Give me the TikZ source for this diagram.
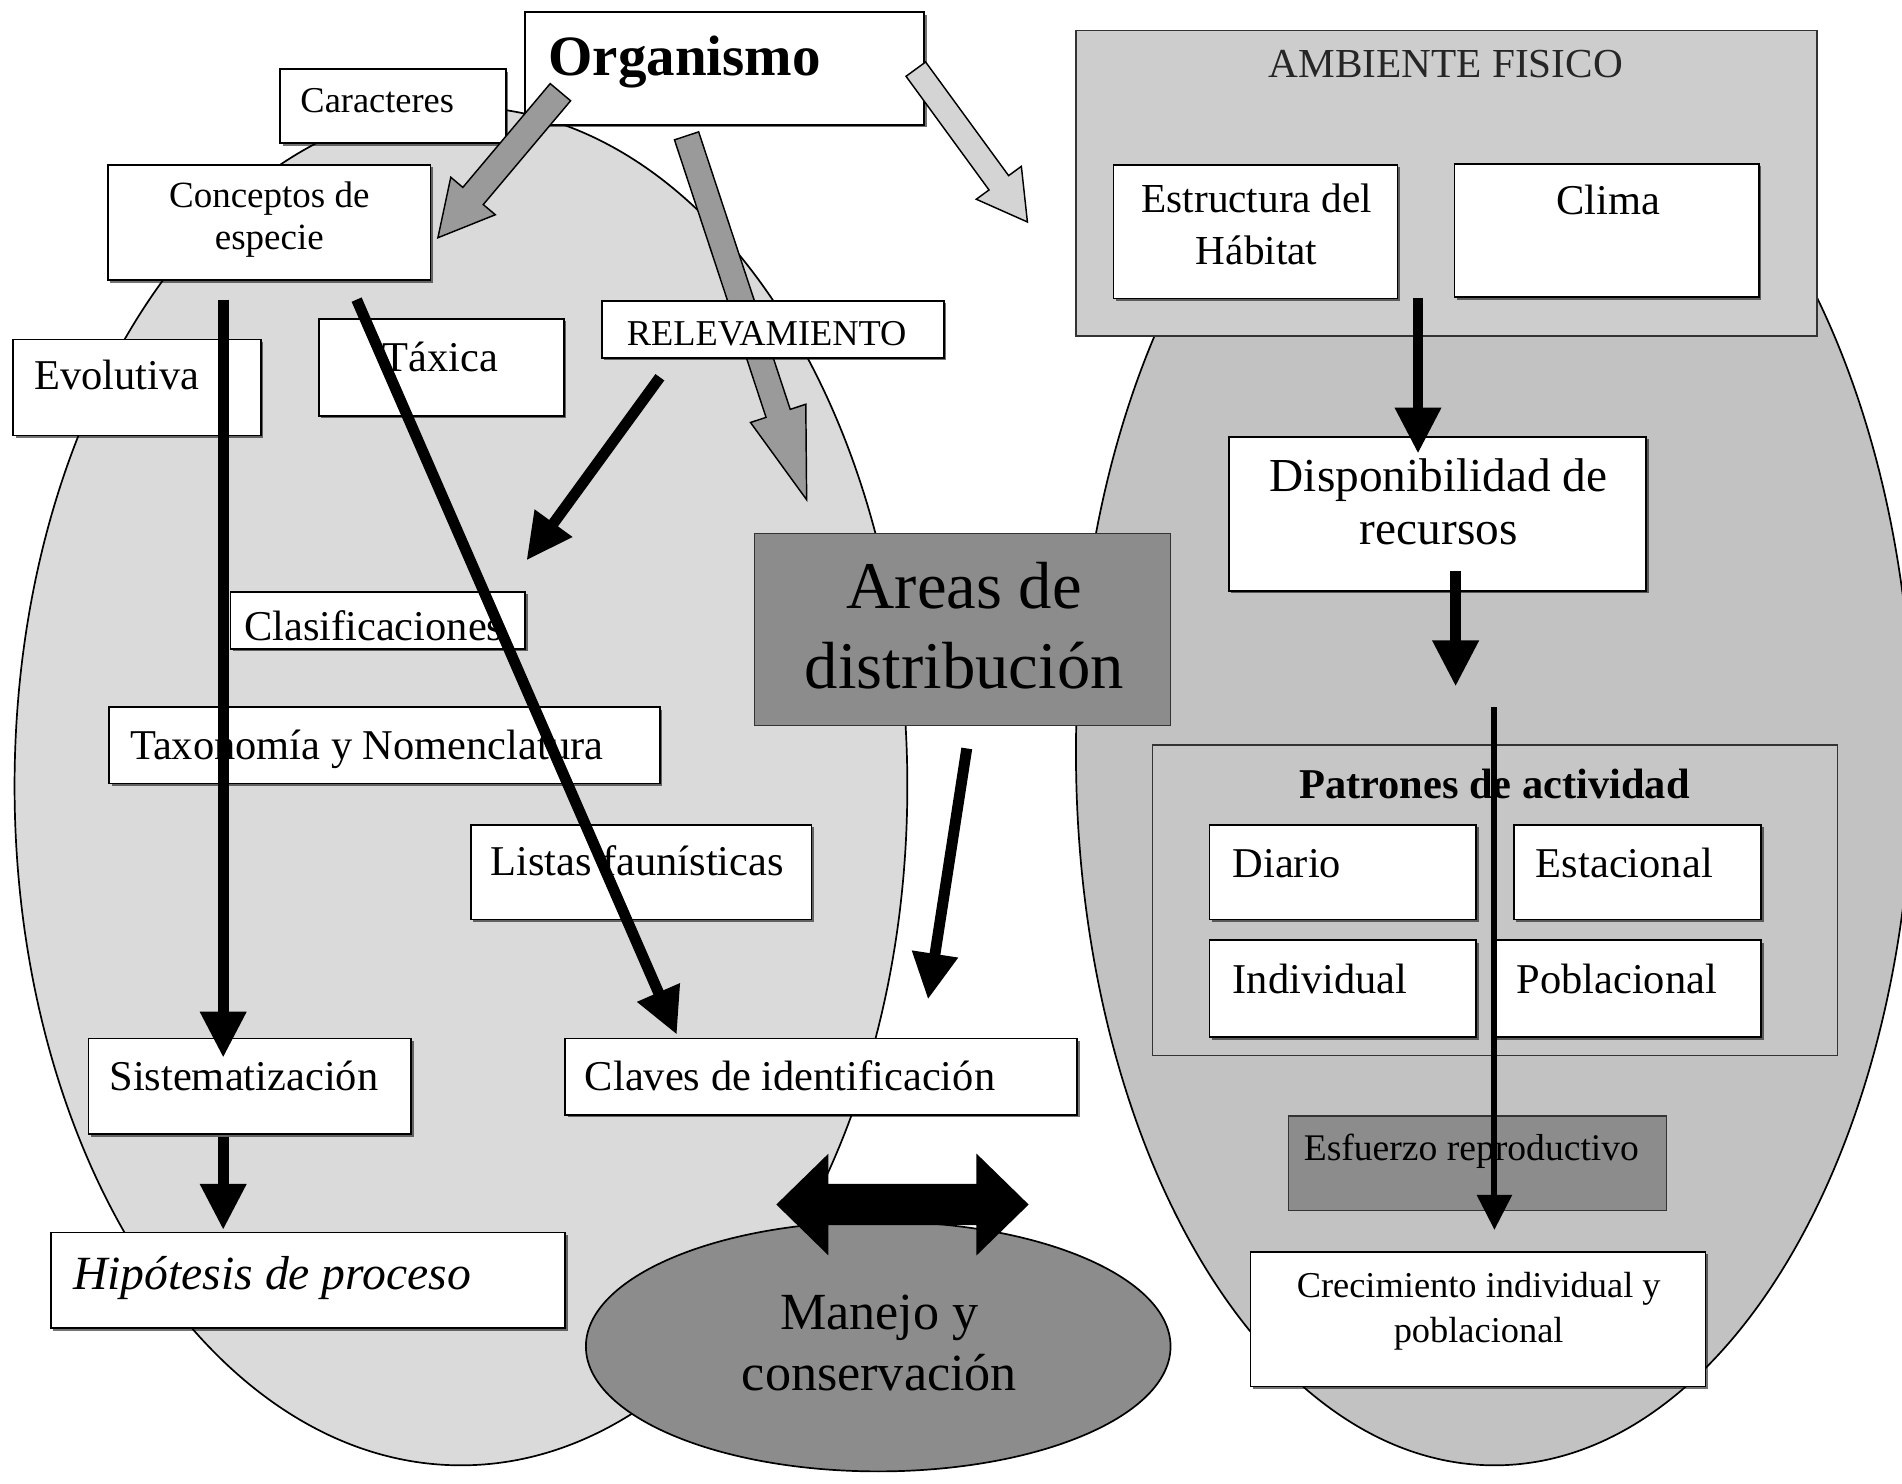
\documentclass[tikz,border=0pt]{standalone}
\usepackage{fontspec}
\setmainfont{Liberation Serif}
\usetikzlibrary{calc,fit,shadows,arrows.meta,shapes.geometric}
\newcommand\fsz[1]{\fontsize{#1}{#1}\selectfont}
\definecolor{leftfill}{HTML}{DADADA}
\definecolor{rightfill}{HTML}{C2C2C2}
\definecolor{ambfill}{HTML}{CDCDCD}
\definecolor{patfill}{HTML}{C6C6C6}
\definecolor{darkfill}{HTML}{8C8C8C}
\definecolor{arrowmid}{HTML}{9A9A9A}
\definecolor{arrowlight}{HTML}{D4D4D4}

% block arrow: style, tail, tip, shaft half-width, head half-width, head length
\newcommand\blockarrow[6]{%
  \coordinate (#2-hb) at ($(#3)!#6!(#2)$);
  \draw[#1] ($(#2)!#4!90:(#3)$) -- ($(#2-hb)!#4!90:(#3)$) -- ($(#2-hb)!#5!90:(#3)$) -- (#3)
    -- ($(#2-hb)!#5!-90:(#3)$) -- ($(#2-hb)!#4!-90:(#3)$) -- ($(#2)!#4!-90:(#3)$) -- cycle;
}

\begin{document}
\begin{tikzpicture}[x=1pt,y=-1pt,
  box/.style={draw=black, line width=1.4pt, fill=white, inner sep=0pt,
    drop shadow={shadow xshift=2pt, shadow yshift=-2pt, fill=black, opacity=0.55}},
  graybox/.style={draw=black!80, line width=1.2pt, fill=#1, inner sep=0pt},
  txt/.style={inner sep=0pt, font=\fsz{35}},
  blk/.style={line width=9pt, -{Triangle[length=38pt,width=36pt]}},
  thinblk/.style={line width=5pt, -{Triangle[length=29pt,width=28pt]}},
  garrow/.style={draw=black, line width=1.2pt, fill=#1},
]
\useasboundingbox (0,0) rectangle (1568,1223);
\fill[white] (0,0) rectangle (1568,1223);

% background regions
\draw[fill=leftfill, line width=1.4pt] (380,648) ellipse [x radius=368, y radius=560];
\draw[fill=rightfill, line width=1.4pt] (1232,620) ellipse [x radius=345, y radius=588];

% wide gray arrow running under the survey box
\coordinate (g2t) at (566,112);  \coordinate (g2p) at (665,412);
\blockarrow{garrow=arrowmid}{g2t}{g2p}{10.5pt}{24pt}{75pt}

% physical environment block
\node[graybox=ambfill, fit={(887,25)(1498,277)}] (amb) {};
\node[txt, anchor=base, font=\fsz{34}, text=black!85] (t-amb) at (1192,64) {AMBIENTE FISICO};

% distribution areas
\node[graybox=darkfill, fit={(622,440)(965,598)}] (are) {};
\node[txt, anchor=base, font=\fsz{55}] (t-are1) at (795,502) {Areas de};
\node[txt, anchor=base, font=\fsz{55}] (t-are2) at (795,568) {distribución};

% management ellipse
\node[draw=black, line width=1.4pt, fill=darkfill, ellipse, minimum width=482pt, minimum height=206pt, inner sep=0pt] (man) at (724,1110) {};
\node[txt, anchor=base, font=\fsz{43}] (t-man1) at (725,1096) {Manejo y};
\node[txt, anchor=base, font=\fsz{43}] (t-man2) at (725,1146) {conservación};

% activity patterns block
\node[graybox=patfill, fit={(950,614)(1515,870)}] (pat) {};
\node[txt, anchor=base, font=\fsz{35}\bfseries] (t-pat) at (1232,658) {Patrones de actividad};
\node[graybox=darkfill, fit={(1062,920)(1374,998)}] (esf) {};
\node[txt, anchor=base, font=\fsz{31}] (t-esf) at (1213,957) {Esfuerzo reproductivo};

% white boxes
\node[box, fit={(433,10)(762,103)}] (org) {};
\node[txt, anchor=base west, font=\fsz{47}\bfseries] (t-org) at (452,62) {Organismo};
\node[box, fit={(231,57)(417,118)}] (car) {};
\node[txt, anchor=base, font=\fsz{30}] (t-car) at (311,93) {Caracteres};
\node[box, fit={(89,136)(355,231)}] (con) {};
\node[txt, anchor=base, font=\fsz{30.5}] (t-con1) at (222,171) {Conceptos de};
\node[txt, anchor=base, font=\fsz{30.5}] (t-con2) at (222,206) {especie};
\node[box, fit={(11,280)(215,359)}] (evo) {};
\node[txt, anchor=base west] (t-evo) at (28,321) {Evolutiva};
\node[box, fit={(263,263)(465,343)}] (tax) {};
\node[txt, anchor=base west] (t-tax) at (315,306) {Táxica};
\node[box, fit={(496,248)(778,295)}] (rel) {};
\node[txt, anchor=base, font=\fsz{30}] (t-rel) at (632,285) {RELEVAMIENTO};
\node[box, fit={(190,488)(433,535)}] (cla) {};
\node[txt, anchor=base west] (t-cla) at (201,528) {Clasificaciones};
\node[box, fit={(90,583)(544,646)}] (tyn) {};
\node[txt, anchor=base west] (t-tyn) at (107,626) {Taxonomía y Nomenclatura};
\node[box, fit={(388,680)(669,758)}] (lis) {};
\node[txt, anchor=base west] (t-lis) at (404,722) {Listas faunísticas};
\node[box, fit={(73,856)(339,935)}] (sis) {};
\node[txt, anchor=base west] (t-sis) at (90,899) {Sistematización};
\node[box, fit={(466,856)(888,919)}] (cla2) {};
\node[txt, anchor=base west] (t-cla2) at (482,899) {Claves de identificación};
\node[box, fit={(42,1016)(466,1095)}] (hip) {};
\node[txt, anchor=base west, font=\fsz{39.3}\itshape] (t-hip) at (60,1063) {Hipótesis de proceso};

\node[box, fit={(918,136)(1152,246)}] (est) {};
\node[txt, anchor=base, font=\fsz{34}] (t-est1) at (1036,175) {Estructura del};
\node[txt, anchor=base, font=\fsz{34}] (t-est2) at (1036,218) {Hábitat};
\node[box, fit={(1199,135)(1450,245)}] (cli) {};
\node[txt, anchor=base] (t-cli) at (1326,177) {Clima};
\node[box, fit={(1013,360)(1357,487)}] (dis) {};
\node[txt, anchor=base, font=\fsz{39}] (t-dis1) at (1186,405) {Disponibilidad de};
\node[txt, anchor=base, font=\fsz{39}] (t-dis2) at (1186,449) {recursos};
\node[box, fit={(997,680)(1217,758)}] (dia) {};
\node[txt, anchor=base west] (t-dia) at (1016,723) {Diario};
\node[box, fit={(1248,680)(1452,758)}] (esta) {};
\node[txt, anchor=base west] (t-esta) at (1266,723) {Estacional};
\node[box, fit={(997,775)(1217,855)}] (ind) {};
\node[txt, anchor=base west] (t-ind) at (1016,819) {Individual};
\node[box, fit={(1232,775)(1452,855)}] (pob) {};
\node[txt, anchor=base west] (t-pob) at (1250,819) {Poblacional};
\node[box, fit={(1031,1032)(1406,1143)}] (cre) {};
\node[txt, anchor=base, font=\fsz{30}] (t-cre1) at (1219,1070) {Crecimiento individual y};
\node[txt, anchor=base, font=\fsz{30}] (t-cre2) at (1219,1107) {poblacional};

% wide gray arrows lying over the organism box
\coordinate (g1t) at (462,76);   \coordinate (g1p) at (361,196);
\coordinate (g3t) at (755,57);   \coordinate (g3p) at (847,183);
\blockarrow{garrow=arrowmid}{g1t}{g1p}{11pt}{24pt}{45pt}
\blockarrow{garrow=arrowlight}{g3t}{g3p}{10pt}{23pt}{40pt}

% black arrows
\coordinate (a1s) at (184,247);  \coordinate (a1e) at (184,872);
\coordinate (a2s) at (184,937);  \coordinate (a2e) at (184,1014);
\coordinate (a3s) at (294,247);  \coordinate (a3e) at (558,853);
\coordinate (a4s) at (544,311);  \coordinate (a4e) at (434,462);
\coordinate (a5s) at (797,617);  \coordinate (a5e) at (765,824);
\coordinate (a6s) at (1169,246); \coordinate (a6e) at (1169,374);
\coordinate (a7s) at (1200,471); \coordinate (a7e) at (1200,566);
\coordinate (a8s) at (1232,583); \coordinate (a8e) at (1232,1014);
\draw[blk] (a1s) -- (a1e);
\draw[blk] (a2s) -- (a2e);
\draw[blk] (a3s) -- (a3e);
\draw[blk] (a4s) -- (a4e);
\draw[blk] (a5s) -- (a5e);
\draw[blk] (a6s) -- (a6e);
\draw[blk] (a7s) -- (a7e);
\draw[thinblk] (a8s) -- (a8e);

% double-headed arrow above the management ellipse
\coordinate (dl) at (640,993);
\coordinate (dr) at (848,993);
\fill[black] (dl) -- ++(43,-42) -- ++(0,25) -- ++(122,0) -- ++(0,-25) -- (dr)
  -- ++(-43,42) -- ++(0,-25) -- ++(-122,0) -- ++(0,25) -- cycle;
\end{tikzpicture}
\end{document}
